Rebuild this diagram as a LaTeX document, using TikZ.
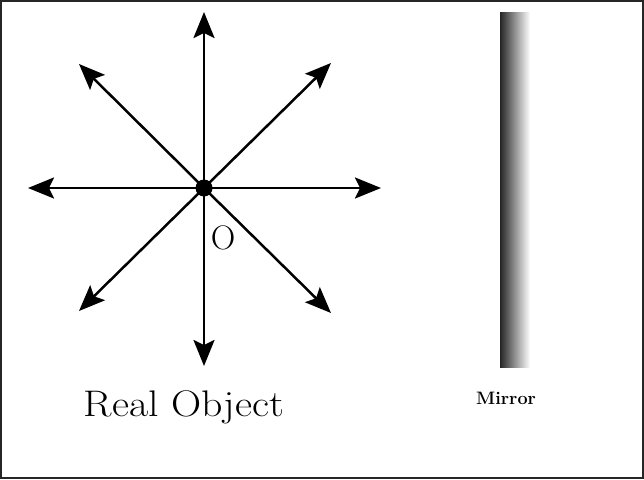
\documentclass[tikz,border=0pt]{standalone}
\usetikzlibrary{arrows.meta}
\begin{document}
\begin{tikzpicture}[x=1pt,y=-1pt,
  ray/.style={line width=2.5pt,-{Stealth[length=26pt,width=21pt,inset=5pt]}},
  lbl/.style={inner sep=0pt,anchor=center}]
\useasboundingbox (0,0) rectangle (644,479);
\draw[line width=2pt,draw=black!85] (1,1) rectangle (643,478);
\node[circle,fill=black,minimum size=17pt,inner sep=0pt] (o) at (204,188) {};
\coordinate (n) at (204,12);
\coordinate (s) at (204,366);
\coordinate (w) at (28,188);
\coordinate (e) at (381,188);
\coordinate (nw) at (79,64);
\coordinate (ne) at (331,63);
\coordinate (sw) at (79,311);
\coordinate (se) at (331,313);
\foreach \t in {n,s,w,e,nw,ne,sw,se}{\draw[ray] (o.center) -- (\t);}
\node[lbl,font=\fontsize{34}{36}\selectfont] (olab) at (223,238) {O};
\node[lbl,font=\fontsize{37}{40}\selectfont,xscale=1.13,transform shape] (real) at (184,407) {Real Object};
\shade[left color=black!85,right color=white] (500,12) rectangle (530,367);
\node[lbl,font=\fontsize{18}{19}\selectfont\bfseries] (mir) at (506,398) {Mirror};
\end{tikzpicture}
\end{document}
